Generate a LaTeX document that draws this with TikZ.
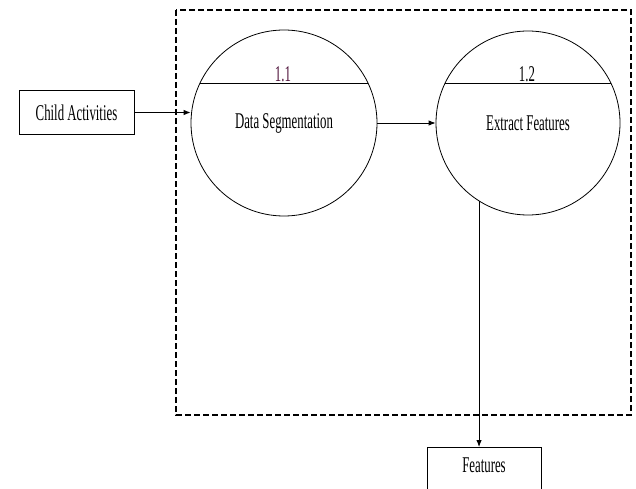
\documentclass[tikz,border=0pt]{standalone}
\usepackage{fontspec}
\setmainfont{Liberation Serif}
\usetikzlibrary{arrows.meta,calc}
\definecolor{numpurple}{RGB}{80,20,60}
\newcommand{\sqz}[1]{\scalebox{0.57}[1]{#1}}
\begin{document}
\begin{tikzpicture}[x=1pt,y=-1pt,
  lbl/.style={font=\fontsize{22.5}{24}\selectfont, inner sep=0pt},
  procbox/.style={draw, line width=0.9pt, inner sep=0pt},
  proc/.style={draw, circle, line width=0.8pt, minimum size=#1, inner sep=0pt, font=\fontsize{22.5}{24}\selectfont},
  flow/.style={line width=0.9pt, -{Latex[length=7pt,width=5.5pt]}},
  bound/.style={draw, line width=1.1pt, dash pattern=on 6pt off 3pt}
]
\useasboundingbox (0,0) rectangle (636,489);
\clip (0,0) rectangle (636,489);
% boundary
\draw[bound] (176,10) rectangle (631,415);
% external entities
\node[procbox, minimum width=115pt, minimum height=44pt, font=\fontsize{22.5}{24}\selectfont] (ca) at (76.5,112.5) {\sqz{Child Activities}};
\node[procbox, minimum width=114pt, minimum height=80pt, anchor=north west] (ft) at (427,447) {};
\node[lbl, anchor=base] (ftl) at (484,472) {\sqz{Features}};
% processes
\node[proc=186pt] (c1) at (284,123) {\sqz{Data Segmentation}};
\node[proc=184pt] (c2) at (528,123) {\sqz{Extract Features}};
\draw[line width=0.9pt] ($(c1)+(-84.2,-40)$) -- ($(c1)+(84.2,-40)$);
\draw[line width=0.9pt] ($(c2)+(-83,-40)$) -- ($(c2)+(83,-40)$);
\node[lbl, anchor=base, text=numpurple] (n1) at (283,81.5) {\sqz{1.1}};
\node[lbl, anchor=base] (n2) at (527,81.5) {\sqz{1.2}};
% flows
\draw[flow] (ca.east) -- (ca.east -| c1.west);
\draw[flow] (c1) -- (c2);
\draw[flow] (c2.-122) -- (c2.-122 |- ft.north);
\end{tikzpicture}
\end{document}
